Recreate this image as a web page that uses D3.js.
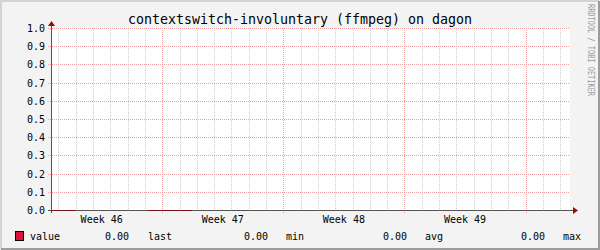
<!DOCTYPE html>
<html>
<head>
<meta charset="utf-8">
<script src="https://cdn.jsdelivr.net/npm/d3@7"></script>
<style>
  body { margin: 0; background: #fff; }
  svg text { font-family: "DejaVu Sans Mono", monospace; }
</style>
</head>
<body>
<div id="chart"></div>
<script>
// chart data
var titleText = "contextswitch-involuntary (ffmpeg) on dagon"
var timeStart = Date.UTC(2023, 10, 13, 13, 40)
var timeEnd = Date.UTC(2023, 11, 13, 13, 40)
// samples, null = no data (gap in the line)
var sampleTimes = [
  Date.UTC(2023, 10, 13, 13, 40),
  Date.UTC(2023, 10, 15, 0, 10),
  Date.UTC(2023, 10, 17, 0, 0),
  Date.UTC(2023, 10, 19, 4, 0),
  Date.UTC(2023, 10, 21, 17, 20)
]
var sampleValues = [0, 0, null, 0, 0]
var yTicks = [0, 0.1, 0.2, 0.3, 0.4, 0.5, 0.6, 0.7, 0.8, 0.9, 1.0]
var legendLabels = ["value", "0.00", "last", "0.00", "min", "0.00", "avg", "0.00", "max"]

var width = 600
var height = 250
// note: "top" is taken by window.top, so plot edges get their own names
var pLeft = 51, pRight = 570, pTop = 28, pBottom = 210

var svg = d3.select("#chart").append("svg")
  .attr("width", width)
  .attr("height", height)

// background + 3d frame
svg.append("rect").attr("width", width).attr("height", height).attr("fill", "#f3f3f3")
svg.append("path").attr("d", "M1,249V1H599").attr("fill", "none").attr("stroke", "#d4d4d4").attr("stroke-width", 2)
svg.append("path").attr("d", "M1,249H599V1").attr("fill", "none").attr("stroke", "#9c9c9c").attr("stroke-width", 2)

var x = d3.scaleUtc().domain([timeStart, timeEnd]).range([pLeft, pRight])
var y = d3.scaleLinear().domain([0, 1]).range([pBottom, pTop])

svg.append("rect")
  .attr("x", pLeft).attr("y", pTop)
  .attr("width", pRight - pLeft).attr("height", pBottom - pTop)
  .attr("fill", "#fff")

// minor vertical grid (days)
var days = d3.utcDay.range(new Date(timeStart), new Date(timeEnd))
var mondays = d3.utcMonday.range(new Date(timeStart), new Date(timeEnd))
var mondayKeys = mondays.map(d => +d)

svg.append("g").selectAll("line")
  .data(days.filter(d => mondayKeys.indexOf(+d) < 0))
  .enter().append("line")
    .attr("x1", d => Math.round(x(d)) + 0.5).attr("x2", d => Math.round(x(d)) + 0.5)
    .attr("y1", pTop).attr("y2", pBottom + 2)
    .attr("stroke", "#cccccc")
    .attr("stroke-dasharray", "1,1")

// major vertical grid (weeks)
svg.append("g").selectAll("line")
  .data(mondays)
  .enter().append("line")
    .attr("x1", d => Math.round(x(d)) + 0.5).attr("x2", d => Math.round(x(d)) + 0.5)
    .attr("y1", pTop).attr("y2", pBottom + 3)
    .attr("stroke", "#f2a0a0")
    .attr("stroke-dasharray", "1,1")

// horizontal grid
svg.append("g").selectAll("line")
  .data(yTicks.slice(1))
  .enter().append("line")
    .attr("x1", pLeft - 3).attr("x2", pRight)
    .attr("y1", d => Math.round(y(d)) + 0.5).attr("y2", d => Math.round(y(d)) + 0.5)
    .attr("stroke", "#f2a0a0")
    .attr("stroke-dasharray", "1,1")

// y labels
svg.append("g").selectAll("text")
  .data(yTicks)
  .enter().append("text")
    .attr("x", pLeft - 6)
    .attr("y", d => Math.round(y(d)) + 3.5)
    .attr("text-anchor", "end")
    .attr("font-size", 10)
    .attr("fill", "#000")
    .text(d => d.toFixed(1))

// week labels at the middle of each week
var weekStarts = d3.utcMonday.range(d3.utcMonday.floor(new Date(timeStart)), new Date(timeEnd))
svg.append("g").selectAll("text")
  .data(weekStarts.filter(d => x(+d + 3.5 * 864e5) > pLeft && x(+d + 3.5 * 864e5) < pRight - 20))
  .enter().append("text")
    .attr("x", d => x(+d + 3.5 * 864e5))
    .attr("y", 223)
    .attr("text-anchor", "middle")
    .attr("font-size", 10)
    .attr("fill", "#000")
    .text(d => "Week " + d3.utcFormat("%V")(d))

// axes
svg.append("line")
  .attr("x1", pLeft - 3).attr("x2", pRight + 3)
  .attr("y1", pBottom + 0.5).attr("y2", pBottom + 0.5)
  .attr("stroke", "#555")
svg.append("line")
  .attr("x1", pLeft + 0.5).attr("x2", pLeft + 0.5)
  .attr("y1", pBottom + 3).attr("y2", pTop - 3)
  .attr("stroke", "#555")
svg.append("path")
  .attr("d", `M${pRight + 3},${pBottom - 3}L${pRight + 8},${pBottom + 0.5}L${pRight + 3},${pBottom + 4}Z`)
  .attr("fill", "#8b1010")
svg.append("path")
  .attr("d", `M${pLeft - 3},${pTop - 2}L${pLeft + 0.5},${pTop - 7}L${pLeft + 4},${pTop - 2}Z`)
  .attr("fill", "#8b1010")

// data line
var line = d3.line()
  .defined((d, i) => sampleValues[i] != null)
  .x(d => x(d))
  .y((d, i) => y(sampleValues[i] || 0) + 0.5)
svg.append("path")
  .datum(sampleTimes)
  .attr("d", line)
  .attr("fill", "none")
  .attr("stroke", "#7a0f1c")
  .attr("stroke-width", 1)

// title
svg.append("text")
  .attr("x", 300).attr("y", 24)
  .attr("text-anchor", "middle")
  .attr("font-size", 13.3)
  .attr("fill", "#000")
  .text(titleText)

// watermark
svg.append("text")
  .attr("transform", "translate(587.5,4) rotate(90)")
  .attr("font-size", 8)
  .attr("fill", "#999")
  .attr("textLength", 92)
  .attr("lengthAdjust", "spacingAndGlyphs")
  .text("RRDTOOL / TOBI OETIKER")

// legend
svg.append("rect")
  .attr("x", 15.5).attr("y", 231.5)
  .attr("width", 8).attr("height", 9)
  .attr("fill", "#dc143c")
  .attr("stroke", "#000")
var legendX = [30, 105, 148, 244, 286, 383, 425, 521, 563]
svg.append("g").selectAll("text")
  .data(legendLabels)
  .enter().append("text")
    .attr("x", (d, i) => legendX[i])
    .attr("y", 240)
    .attr("font-size", 10)
    .attr("fill", "#000")
    .text(d => d)
</script>
</body>
</html>
